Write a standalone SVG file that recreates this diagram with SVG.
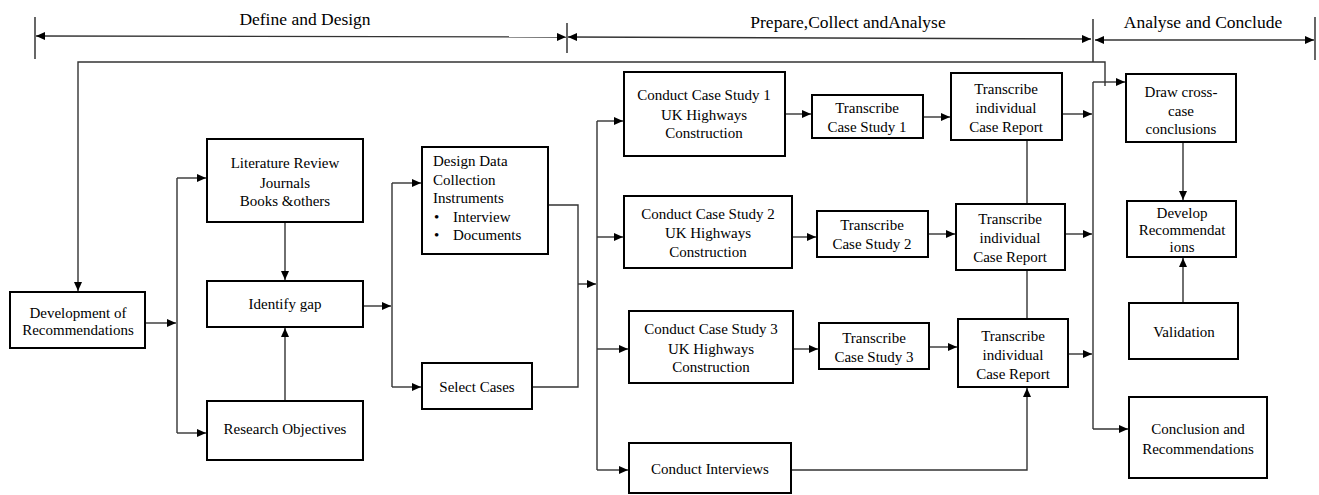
<svg xmlns="http://www.w3.org/2000/svg" width="1319" height="495" viewBox="0 0 1319 495">
<defs>
<marker id="ah" markerWidth="9" markerHeight="8" refX="9" refY="4" orient="auto-start-reverse" markerUnits="userSpaceOnUse"><path d="M0,0 L9,4 L0,8 z" fill="#000"/></marker>
<style>
.box{fill:#fff;stroke:#000;stroke-width:2}
.t{font-size:15px;fill:#000;text-anchor:middle}
.tl{font-size:15px;fill:#000}
.h{font-size:17.5px;fill:#000;text-anchor:middle}
.c{fill:none;stroke:#333;stroke-width:1.4}
.a{fill:none;stroke:#333;stroke-width:1.4;marker-end:url(#ah)}
.b{fill:none;stroke:#333;stroke-width:1.4;marker-start:url(#ah);marker-end:url(#ah)}
.tick{stroke:#000;stroke-width:1.2}
</style>
</defs>
<g font-family="'Liberation Serif', 'DejaVu Serif', serif">
<g id="header">
<line class="tick" x1="35" y1="17" x2="35" y2="59"/>
<line class="tick" x1="567" y1="23" x2="567" y2="53"/>
<line class="tick" x1="1093" y1="19" x2="1093" y2="62"/>
<line class="tick" x1="1315" y1="17" x2="1315" y2="60"/>
<line class="b" x1="36" y1="36" x2="566" y2="37"/>
<line class="b" x1="568" y1="37" x2="1091" y2="39"/>
<line class="b" x1="1095" y1="40" x2="1314" y2="40"/>
<text class="h" x="305" y="25">Define and Design</text>
<text class="h" x="848" y="28">Prepare,Collect andAnalyse</text>
<text class="h" x="1203" y="28">Analyse and Conclude</text>
</g>
<g id="connectors">
<path class="a" d="M1105,86 V62 H78 V291"/>
<path class="a" d="M145,323 H176"/>
<path class="c" d="M177,178 V433"/>
<path class="a" d="M177,178 H206"/>
<path class="a" d="M177,433 H206"/>
<path class="a" d="M285,222 V280"/>
<path class="a" d="M285,401 V328"/>
<path class="a" d="M363,306 H391"/>
<path class="c" d="M392,183 V387"/>
<path class="a" d="M392,183 H421"/>
<path class="a" d="M392,387 H421"/>
<path class="c" d="M548,205 H578 V387 H532"/>
<path class="a" d="M578,284 H596"/>
<path class="c" d="M597,121 V470"/>
<path class="a" d="M597,121 H623"/>
<path class="a" d="M597,237 H623"/>
<path class="a" d="M597,349 H628"/>
<path class="a" d="M597,470 H628"/>
<path class="a" d="M785,114 H811"/>
<path class="a" d="M923,117 H950"/>
<path class="a" d="M792,237 H816"/>
<path class="a" d="M928,234 H955"/>
<path class="a" d="M793,349 H818"/>
<path class="a" d="M929,347 H957"/>
<path class="c" d="M1027,140 V204"/>
<path class="c" d="M1027,270 V319"/>
<path class="a" d="M791,470 H1027 V388"/>
<path class="a" d="M1062,114 H1092"/>
<path class="a" d="M1065,234 H1092"/>
<path class="a" d="M1068,354 H1092"/>
<path class="c" d="M1093,82 V429"/>
<path class="a" d="M1093,82 H1125"/>
<path class="a" d="M1093,429 H1128"/>
<path class="a" d="M1183,142 V200"/>
<path class="a" d="M1183,303 V258"/>
</g>
<g id="dev"><rect class="box" x="10" y="292" width="135" height="56"/><text class="t" x="78" y="318">Development of</text><text class="t" x="78" y="335">Recommendations</text></g>
<g id="lit"><rect class="box" x="207" y="139" width="156" height="83"/><text class="t" x="285" y="168">Literature Review</text><text class="t" x="285" y="188">Journals</text><text class="t" x="285" y="206">Books &amp;others</text></g>
<g id="gap"><rect class="box" x="207" y="281" width="156" height="46"/><text class="t" x="285" y="309">Identify gap</text></g>
<g id="obj"><rect class="box" x="207" y="401" width="156" height="59"/><text class="t" x="285" y="434">Research Objectives</text></g>
<g id="design"><rect class="box" x="422" y="147" width="126" height="107"/><text class="tl" x="433" y="166">Design Data</text><text class="tl" x="433" y="185">Collection</text><text class="tl" x="433" y="203">Instruments</text><text class="tl" x="434" y="222">•</text><text class="tl" x="453" y="222">Interview</text><text class="tl" x="434" y="240">•</text><text class="tl" x="453" y="240">Documents</text></g>
<g id="select"><rect class="box" x="422" y="363" width="110" height="46"/><text class="t" x="477" y="392">Select Cases</text></g>
<g id="cs1"><rect class="box" x="624" y="72" width="161" height="84"/><text class="t" x="704" y="100">Conduct Case Study 1</text><text class="t" x="704" y="120">UK Highways</text><text class="t" x="704" y="138">Construction</text></g>
<g id="t1"><rect class="box" x="812" y="95" width="111" height="43"/><text class="t" x="867" y="113">Transcribe</text><text class="t" x="867" y="132">Case Study 1</text></g>
<g id="r1"><rect class="box" x="951" y="73" width="111" height="67"/><text class="t" x="1006" y="94">Transcribe</text><text class="t" x="1006" y="113">individual</text><text class="t" x="1006" y="132">Case Report</text></g>
<g id="cs2"><rect class="box" x="624" y="196" width="168" height="72"/><text class="t" x="708" y="219">Conduct Case Study 2</text><text class="t" x="708" y="238">UK Highways</text><text class="t" x="708" y="257">Construction</text></g>
<g id="t2"><rect class="box" x="817" y="211" width="111" height="46"/><text class="t" x="872" y="230">Transcribe</text><text class="t" x="872" y="249">Case Study 2</text></g>
<g id="r2"><rect class="box" x="956" y="204" width="109" height="66"/><text class="t" x="1010" y="224">Transcribe</text><text class="t" x="1010" y="243">individual</text><text class="t" x="1010" y="262">Case Report</text></g>
<g id="cs3"><rect class="box" x="629" y="311" width="164" height="72"/><text class="t" x="711" y="334">Conduct Case Study 3</text><text class="t" x="711" y="354">UK Highways</text><text class="t" x="711" y="372">Construction</text></g>
<g id="t3"><rect class="box" x="819" y="323" width="110" height="46"/><text class="t" x="874" y="343">Transcribe</text><text class="t" x="874" y="362">Case Study 3</text></g>
<g id="r3"><rect class="box" x="958" y="319" width="110" height="68"/><text class="t" x="1013" y="341">Transcribe</text><text class="t" x="1013" y="360">individual</text><text class="t" x="1013" y="379">Case Report</text></g>
<g id="interviews"><rect class="box" x="629" y="443" width="162" height="50"/><text class="t" x="710" y="474">Conduct Interviews</text></g>
<g id="draw"><rect class="box" x="1126" y="74" width="110" height="68"/><text class="t" x="1181" y="97">Draw cross-</text><text class="t" x="1181" y="116">case</text><text class="t" x="1181" y="134">conclusions</text></g>
<g id="develop"><rect class="box" x="1127" y="201" width="109" height="56"/><text class="t" x="1182" y="218">Develop</text><text class="t" x="1182" y="235">Recommendat</text><text class="t" x="1182" y="252">ions</text></g>
<g id="validation"><rect class="box" x="1129" y="303" width="109" height="56"/><text class="t" x="1184" y="337">Validation</text></g>
<g id="conclusion"><rect class="box" x="1129" y="397" width="138" height="81"/><text class="t" x="1198" y="434">Conclusion and</text><text class="t" x="1198" y="454">Recommendations</text></g>
</g>
</svg>
